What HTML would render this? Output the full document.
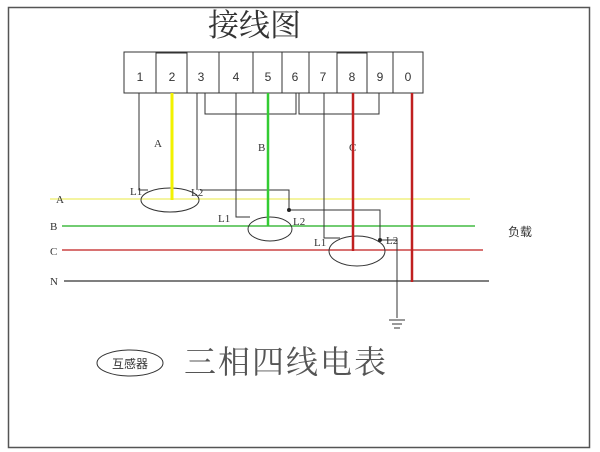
<!DOCTYPE html>
<html><head><meta charset="utf-8"><style>
html,body{margin:0;padding:0;background:#fff;}
svg{display:block;}
</style></head><body>
<svg width="600" height="452" viewBox="0 0 600 452" xmlns="http://www.w3.org/2000/svg">
<rect x="0" y="0" width="600" height="452" fill="#fff"/>
<rect x="8.5" y="7.5" width="581" height="440" fill="none" stroke="#555" stroke-width="1.5"/>
<text x="208" y="36" font-family="'Liberation Serif','Noto Serif CJK SC',serif" font-size="31" fill="#333">接线图</text>
<g stroke="#333" stroke-width="1" fill="none">
<rect x="124" y="52" width="299" height="41"/>
<line x1="156" y1="52" x2="156" y2="93"/><line x1="187" y1="52" x2="187" y2="93"/>
<line x1="219" y1="52" x2="219" y2="93"/><line x1="253" y1="52" x2="253" y2="93"/>
<line x1="282" y1="52" x2="282" y2="93"/><line x1="309" y1="52" x2="309" y2="93"/>
<line x1="337" y1="52" x2="337" y2="93"/><line x1="367" y1="52" x2="367" y2="93"/>
<line x1="393" y1="52" x2="393" y2="93"/>
<line x1="156" y1="52.5" x2="187" y2="52.5" stroke-width="2"/>
<line x1="337" y1="52.5" x2="367" y2="52.5" stroke-width="2"/>
</g>
<g font-family="'Liberation Sans',sans-serif" font-size="12" fill="#333" text-anchor="middle">
<text x="140" y="81">1</text><text x="172" y="81">2</text><text x="201" y="81">3</text>
<text x="236" y="81">4</text><text x="268" y="81">5</text><text x="295" y="81">6</text>
<text x="323" y="81">7</text><text x="352" y="81">8</text><text x="380" y="81">9</text>
<text x="408" y="81">0</text>
</g>
<line x1="50" y1="199" x2="470" y2="199" stroke="#f0f080" stroke-width="1.5"/>
<line x1="62" y1="226" x2="475" y2="226" stroke="#44bb44" stroke-width="1.5"/>
<line x1="62" y1="250" x2="483" y2="250" stroke="#cc4444" stroke-width="1.5"/>
<line x1="64" y1="281" x2="489" y2="281" stroke="#333" stroke-width="1.2"/>
<g font-family="'Liberation Serif',serif" font-size="11" fill="#333">
<text x="56" y="203">A</text><text x="50" y="230">B</text><text x="50" y="255">C</text><text x="50" y="285">N</text>
<text x="154" y="147">A</text><text x="258" y="151">B</text><text x="349" y="151">C</text>
<text x="130" y="195">L1</text><text x="191" y="196">L2</text>
<text x="218" y="222">L1</text><text x="293" y="225">L2</text>
<text x="314" y="246">L1</text><text x="386" y="244">L2</text>
</g>
<text x="508" y="236" font-family="'Liberation Sans','Noto Sans CJK SC',sans-serif" font-size="12" fill="#333">负载</text>
<g stroke="#333" stroke-width="1" fill="none">
<polyline points="139,93 139,190 148,190"/>
<polyline points="197,93 197,190"/>
<polyline points="200,190 289,190 289,210"/>
<polyline points="205,93 205,114 296,114 296,93"/>
<polyline points="299,93 299,114 379,114 379,93"/>
<polyline points="236,93 236,217 250,217"/>
<polyline points="289,210 380,210 380,240"/>
<polyline points="324,93 324,238 340,238"/>
<polyline points="380,240 397,240 397,318"/>
<line x1="389" y1="320" x2="405" y2="320"/><line x1="392" y1="324" x2="402" y2="324"/><line x1="394" y1="328" x2="400" y2="328"/>
<ellipse cx="170" cy="200" rx="29" ry="12"/>
<ellipse cx="270" cy="229" rx="22" ry="12"/>
<ellipse cx="357" cy="251" rx="28" ry="15"/>
<ellipse cx="130" cy="363" rx="33" ry="13"/>
</g>
<circle cx="289" cy="210" r="2" fill="#222"/><circle cx="380" cy="240" r="2" fill="#222"/>
<line x1="172" y1="93" x2="172" y2="200" stroke="#f2f200" stroke-width="3"/>
<line x1="268" y1="93" x2="268" y2="226" stroke="#33cc33" stroke-width="2.5"/>
<line x1="353" y1="93" x2="353" y2="251" stroke="#c02020" stroke-width="2.5"/>
<line x1="412" y1="93" x2="412" y2="282" stroke="#c02020" stroke-width="2.5"/>
<text x="130" y="368" text-anchor="middle" font-family="'Liberation Sans','Noto Sans CJK SC',sans-serif" font-size="12" fill="#333">互感器</text>
<text x="184" y="373" font-family="'Liberation Serif','Noto Serif CJK SC',serif" font-size="32" letter-spacing="2" fill="#555">三相四线电表</text>
</svg>
</body></html>
